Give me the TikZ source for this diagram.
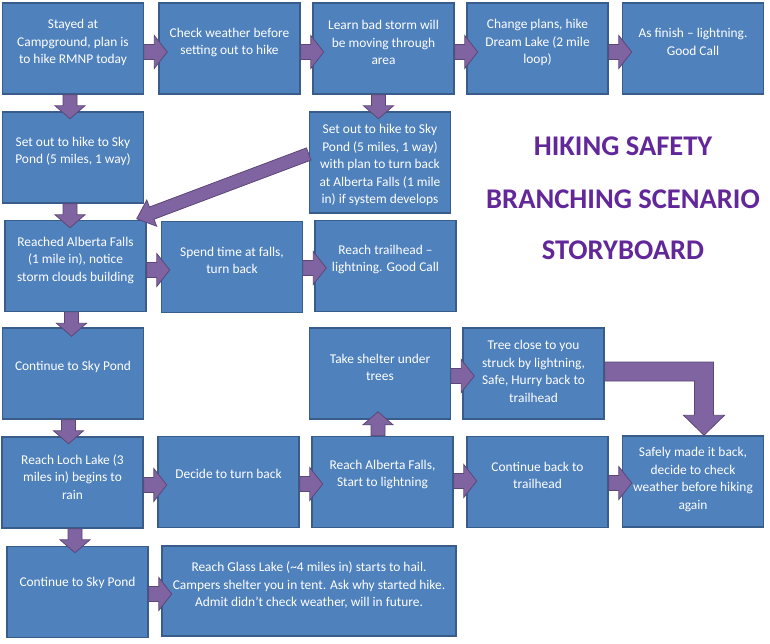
\documentclass[tikz,border=0pt]{standalone}
\usepackage{fontspec}
\setmainfont{Carlito}
\usetikzlibrary{calc}
\definecolor{boxfill}{HTML}{4F81BD}
\definecolor{boxline}{HTML}{385D8A}
\definecolor{arrfill}{HTML}{8064A2}
\definecolor{arrline}{HTML}{5C4776}
\definecolor{titlecol}{HTML}{62289A}
\newcommand\rblock[1]{\filldraw[blockarrow] (#1) ++(0,-7.5) -- ++(10,0) -- ++(0,-9) -- ++(13,16.5) -- ++(-13,16.5) -- ++(0,-9) -- ++(-10,0) -- cycle;}
\newcommand\dblock[1]{\filldraw[blockarrow] (#1) ++(-7,0) -- ++(0,11) -- ++(-8,0) -- ++(15,13) -- ++(15,-13) -- ++(-8,0) -- ++(0,-11) -- cycle;}
\newcommand\ublock[1]{\filldraw[blockarrow] (#1) ++(-7,0) -- ++(0,-11) -- ++(-8,0) -- ++(15,-13) -- ++(15,13) -- ++(-8,0) -- ++(0,11) -- cycle;}
\begin{document}
\begin{tikzpicture}[x=1pt,y=-1pt,
 box/.style={draw=boxline, fill=boxfill, line width=1.5pt, minimum width=141pt, minimum height=91pt, inner sep=0pt},
 txt/.style={text=white, align=center, font=\fontsize{13.4}{17.5}\selectfont, inner sep=0pt},
 blockarrow/.style={fill=arrfill, draw=arrline, line width=0.8pt, line join=miter},
 title/.style={text=titlecol, font=\fontsize{28.5}{34}\selectfont\bfseries, anchor=base, inner sep=0pt}]
\fill[white] (0,0) rectangle (770,643);
\useasboundingbox (0,0) rectangle (770,643);
% boxes
\node[box] (A) at (73,48.5) {};
\node[box] (B) at (229.5,48.5) {};
\node[box] (C) at (383.5,48.5) {};
\node[box] (D) at (537.5,48.5) {};
\node[box] (E) at (693,48.5) {};
\node[box] (Sl) at (73,157.5) {};
\node[box, minimum height=101pt] (F) at (380,162.5) {};
\node[box] (G) at (75.5,266) {};
\node[box] (H) at (232,267) {};
\node[box] (I) at (385.5,266) {};
\node[box] (J) at (73,373.5) {};
\node[box] (K) at (380,373.5) {};
\node[box] (L) at (533.5,373.5) {};
\node[box] (P) at (72.5,482.5) {};
\node[box] (Q) at (228.5,482) {};
\node[box] (M) at (382.5,482) {};
\node[box] (N) at (537.5,482) {};
\node[box] (O) at (693,481.5) {};
\node[box] (R) at (77.5,592) {};
\node[box, minimum width=294pt, minimum height=90pt] (S) at (309,591) {};
% texts
\node[txt] (A-t) at ($(A.center)+(0,-6)$) {Stayed at\\Campground, plan is\\to hike RMNP today};
\node[txt] (B-t) at ($(B.center)+(0,-6)$) {Check weather before\\setting out to hike};
\node[txt] (C-t) at ($(C.center)+(0,-6)$) {Learn bad storm will\\be moving through\\area};
\node[txt] (D-t) at ($(D.center)+(0,-6)$) {Change plans, hike\\Dream Lake (2 mile\\loop)};
\node[txt] (E-t) at ($(E.center)+(0,-6.5)$) {As finish – lightning.\\Good Call};
\node[txt] (Sl-t) at ($(Sl.center)+(0,-6)$) {Set out to hike to Sky\\Pond (5 miles, 1 way)};
\node[txt] (F-t) at ($(F.center)+(0,2.5)$) {Set out to hike to Sky\\Pond (5 miles, 1 way)\\with plan to turn back\\at Alberta Falls (1 mile\\in) if system develops};
\node[txt] (G-t) at ($(G.center)+(0,-6)$) {Reached Alberta Falls\\(1 mile in), notice\\storm clouds building};
\node[txt] (H-t) at ($(H.center)+(0,-6.5)$) {Spend time at falls,\\turn back};
\node[txt] (I-t) at ($(I.center)+(0,-6.5)$) {Reach trailhead –\\lightning. Good Call};
\node[txt] (J-t) at ($(J.center)+(0,-6.5)$) {Continue to Sky Pond};
\node[txt] (K-t) at ($(K.center)+(0,-6)$) {Take shelter under\\trees};
\node[txt] (L-t) at ($(L.center)+(0,-2)$) {Tree close to you\\struck by lightning,\\Safe, Hurry back to\\trailhead};
\node[txt] (P-t) at ($(P.center)+(0,-5.5)$) {Reach Loch Lake (3\\miles in) begins to\\rain};
\node[txt] (Q-t) at ($(Q.center)+(0,-8)$) {Decide to turn back};
\node[txt] (M-t) at ($(M.center)+(0,-7.5)$) {Reach Alberta Falls,\\Start to lightning};
\node[txt] (N-t) at ($(N.center)+(0,-6.5)$) {Continue back to\\trailhead};
\node[txt] (O-t) at ($(O.center)+(0,-2)$) {Safely made it back,\\decide to check\\weather before hiking\\again};
\node[txt] (R-t) at ($(R.center)+(0,-9)$) {Continue to Sky Pond};
\node[txt] (S-t) at ($(S.center)+(0,-6)$) {Reach Glass Lake (\textasciitilde4 miles in) starts to hail.\\Campers shelter you in tent. Ask why started hike.\\Admit didn’t check weather, will in future.};
% title
\node[title] (T1) at (623,155) {HIKING SAFETY};
\node[title] (T2) at (623,208) {BRANCHING SCENARIO};
\node[title] (T3) at (623,259) {STORYBOARD};
% right arrows
\rblock{$(A.east)+(0,3.5)$}
\rblock{$(B.east)+(0,3.5)$}
\rblock{$(C.east)+(0,3.5)$}
\rblock{$(D.east)+(0,3.5)$}
\rblock{$(G.east)+(0,4)$}
\rblock{$(H.east)+(0,1)$}
\rblock{$(K.east)+(0,2.5)$}
\rblock{$(P.east)+(0,2.5)$}
\rblock{$(Q.east)+(0,2)$}
\rblock{$(M.east)+(0,-1)$}
\rblock{$(N.east)+(0,1)$}
\rblock{$(R.east)+(0,2)$}
% down arrows
\dblock{$(A.south)+(-3,0)$}
\dblock{$(Sl.south)+(-3,0)$}
\dblock{$(G.south)+(-4,0)$}
\dblock{$(J.south)+(-4.5,0)$}
\dblock{$(P.south)+(2.5,0)$}
\dblock{$(C.south)+(-5,0)$}
% up arrow
\ublock{$(M.north)+(-4.5,0)$}
% diagonal arrow
\coordinate (dS) at ($(F.west)+(0,-8.5)$);
\coordinate (dT) at ($(G.north east)+(-10,-1)$);
\coordinate (dB) at ($(dT)!16pt!(dS)$);
\filldraw[blockarrow] ($(dS)!6.5pt!90:(dT)$) -- ($(dB)!6.5pt!90:(dT)$) -- ($(dB)!14pt!90:(dT)$) -- (dT) -- ($(dB)!14pt!-90:(dT)$) -- ($(dB)!6.5pt!-90:(dT)$) -- ($(dS)!6.5pt!-90:(dT)$) -- cycle;
% L-shaped arrow
\coordinate (Lst) at ($(L.east)+(0,-11.5)$);
\coordinate (Otip) at ($(O.north)+(11,0)$);
\filldraw[blockarrow] (Lst) -- ($(Otip|-Lst)+(9.5,0)$) -- ($(Otip)+(9.5,-20)$) -- ($(Otip)+(20.5,-20)$) -- (Otip) -- ($(Otip)+(-20.5,-20)$) -- ($(Otip)+(-9.5,-20)$) -- ($(Otip|-Lst)+(-9.5,19)$) -- ($(Lst)+(0,19)$) -- cycle;
\end{tikzpicture}
\end{document}
